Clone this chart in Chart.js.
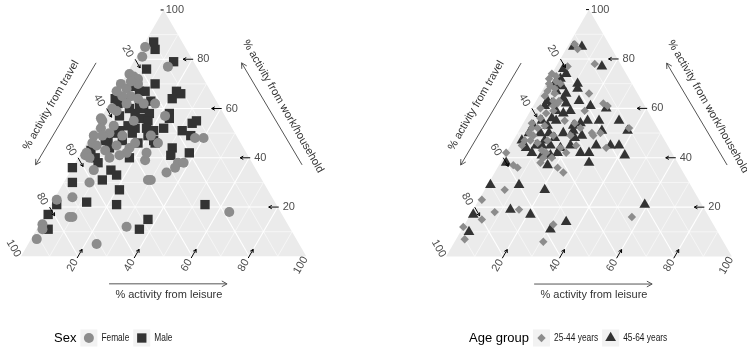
<!DOCTYPE html>
<html>
<head>
<meta charset="utf-8">
<script src="https://cdn.jsdelivr.net/npm/chart.js@4.4.1/dist/chart.umd.min.js"></script>
<style>
  html, body { margin: 0; padding: 0; background: #ffffff; }
  #wrap { position: relative; width: 747px; height: 351px; overflow: hidden; }
  .panel { position: absolute; top: 0; }
  #leftPanel { left: 0; }
  #rightPanel { left: 374px; }
</style>
</head>
<body>
<div id="wrap">
  <div class="panel" id="leftPanel"><canvas id="sexChart" width="374" height="351"></canvas></div>
  <div class="panel" id="rightPanel"><canvas id="ageChart" width="373" height="351"></canvas></div>
</div>
<script>
// =====================================================
// 1. DATA (% activity: travel / work-household / leisure)
// =====================================================
const femaleTravel = [14,17,10,25,24,23,30,29,29,27,32,22,21,12,15,37,26,28,24,32,40,39,61,70,76,18,75,74,86,87,91,57,71,44,46,50,52,51,56,57,56,49,49,41,37,44,40,40,37,35,42,45,44,33,32,38,24,26,30,29,44,47,57,26,33];
const femaleWork = [85,81,77,74,73,72,70,68,65,64,65,62,57,48,48,39,38,36,38,34,31,31,30,24,23,18,16,16,13,11,7,12,5,55,52,49,46,45,42,41,40,40,43,53,59,50,49,44,46,42,42,41,45,55,62,60,70,62,49,46,56,49,35,71,67];
const femaleLeisure = [1,2,13,1,3,5,0,3,6,9,3,16,22,40,37,24,36,36,38,34,29,30,9,6,1,64,9,10,1,2,2,31,24,1,2,1,2,4,2,2,4,11,8,6,4,6,11,16,17,23,16,14,11,12,6,2,6,12,21,25,0,4,8,3,0];

const maleTravel = [10,11,7,18,18,12,11,15,26,25,23,35,35,32,28,27,31,37,30,26,19,20,13,11,28,36,34,40,30,24,18,16,31,30,30,42,46,47,36,25,27,20,42,54,54,64,54,51,50,67,56,52,66,56,25,77,82,48,53,85,41,47,32,23,28,36];
const maleWork = [87,84,79,76,70,67,66,64,69,67,67,64,62,60,61,60,58,57,56,58,58,56,54,55,55,53,52,51,52,52,51,49,49,46,47,50,47,47,50,44,41,42,40,40,38,36,43,35,33,30,31,27,22,21,21,21,17,15,11,11,47,44,63,63,51,46];
const maleLeisure = [3,5,14,6,12,21,23,21,5,8,10,1,3,8,11,13,11,6,14,16,23,24,33,34,17,11,14,9,18,24,31,35,20,24,23,8,7,6,14,31,32,38,18,6,8,0,3,14,17,3,13,21,12,23,54,2,1,37,36,4,12,9,5,14,21,18];

const youngTravel = [12,12,9,19,25,25,29,31,29,31,17,13,22,36,39,42,44,46,10,27,21,24,22,32,58,58,57,46,48,43,42,66,76,74,65,80,27,56,88,90,63,26,29,29,43,49,51,45,41,38,32,31,44,32,33,14,26,28,28,33,30,37,39,45,47,45,38,28,24,37,43];
const youngWork = [86,84,78,77,73,70,69,67,66,63,66,61,59,58,56,52,52,50,52,52,50,49,44,45,42,37,36,40,38,36,34,27,23,18,19,15,16,13,12,7,6,71,70,63,54,47,45,46,47,44,49,55,42,61,59,62,74,72,68,65,62,60,53,49,47,43,49,54,50,42,40];
const youngLeisure = [2,4,13,4,2,5,2,2,5,6,17,26,19,6,5,6,4,4,38,21,29,27,34,23,0,5,7,14,14,21,24,7,1,8,16,5,57,31,0,3,31,3,1,8,3,4,4,9,12,18,19,14,14,7,8,24,0,0,4,2,8,3,8,6,6,12,13,18,26,21,17];

const olderTravel = [13,10,7,21,21,19,20,25,27,19,14,22,12,11,23,26,29,34,31,28,25,20,17,34,38,32,29,31,17,38,43,46,60,70,60,52,20,68,62,82,51,58,87,46,44,50,50,39,38,34,32,33,35,27,27,25,46,43,40,24,28,32,27,39,35,30,46,42,41,49,20,19,30,42];
const olderWork = [85,85,77,76,74,70,68,66,64,61,60,63,55,51,55,54,53,50,48,49,45,45,45,55,53,42,42,38,41,44,41,37,38,29,29,27,21,19,17,17,14,11,10,45,45,44,47,50,48,45,59,63,61,59,70,69,41,53,42,72,67,62,62,55,56,58,50,50,45,42,51,55,51,47];
const olderLeisure = [2,5,16,3,5,11,12,9,9,20,26,15,33,38,22,20,18,16,21,23,30,35,38,11,9,26,29,31,42,18,16,17,2,1,11,21,59,13,21,1,35,31,3,9,11,6,3,11,14,21,9,4,4,14,3,6,13,4,18,4,5,6,11,6,9,12,4,8,14,9,29,26,19,11];

const tickValues = [20, 40, 60, 80, 100];
const gridMajor = [20, 40, 60, 80];
const gridMinor = [10, 30, 50, 70, 90];

const travelTitle = "% activity from travel";
const workTitle = "% activity from work/household";
const leisureTitle = "% activity from leisure";

// =====================================================
// 2. LAYOUT
// =====================================================
const PX_PER_UNIT = 2.956;   // 100 % along an edge = 295.6 px
const BASE_Y = 259.5;        // pixel row of the triangle base
const SQRT3_2 = Math.sqrt(3) / 2;
const FONT = '"Liberation Sans", Arial, sans-serif';

// ternary -> cartesian (x along base, y up)
function toPoints(travel, work, leisure) {
  return travel.map((t, i) => {
    const sum = t + work[i] + leisure[i];
    const w = work[i] * 100 / sum;
    const l = leisure[i] * 100 / sum;
    return { x: l + w / 2, y: w * SQRT3_2 };
  });
}

function ternaryPx(chart, t, w, l) {
  return {
    x: chart.scales.x.getPixelForValue(l + w / 2),
    y: chart.scales.y.getPixelForValue(w * SQRT3_2)
  };
}

// =====================================================
// 3. DRAW HELPERS
// =====================================================
function line(ctx, a, b) {
  ctx.beginPath();
  ctx.moveTo(a.x, a.y);
  ctx.lineTo(b.x, b.y);
  ctx.stroke();
}

function arrow(ctx, x1, y1, x2, y2, head) {
  const a = Math.atan2(y2 - y1, x2 - x1);
  ctx.beginPath();
  ctx.moveTo(x1, y1);
  ctx.lineTo(x2, y2);
  ctx.moveTo(x2 - head * Math.cos(a - 0.5), y2 - head * Math.sin(a - 0.5));
  ctx.lineTo(x2, y2);
  ctx.lineTo(x2 - head * Math.cos(a + 0.5), y2 - head * Math.sin(a + 0.5));
  ctx.stroke();
}

function rotatedText(ctx, text, x, y, angle) {
  ctx.save();
  ctx.translate(x, y);
  ctx.rotate(angle);
  ctx.textAlign = "center";
  ctx.textBaseline = "middle";
  ctx.fillText(text, 0, 0);
  ctx.restore();
}

function shape(ctx, style, r, x, y) {
  ctx.beginPath();
  if (style === "circle") {
    ctx.arc(x, y, r, 0, Math.PI * 2);
  } else if (style === "rect") {
    const s = r * Math.SQRT1_2;
    ctx.rect(x - s, y - s, 2 * s, 2 * s);
  } else if (style === "rectRot") {
    ctx.moveTo(x - r, y); ctx.lineTo(x, y - r); ctx.lineTo(x + r, y); ctx.lineTo(x, y + r);
  } else {
    ctx.moveTo(x, y - r);
    ctx.lineTo(x + r * SQRT3_2, y + r / 2);
    ctx.lineTo(x - r * SQRT3_2, y + r / 2);
  }
  ctx.closePath();
  ctx.fill();
}

function drawGrid(chart, values, width) {
  const ctx = chart.ctx;
  ctx.lineWidth = width;
  values.forEach(v => {
    line(ctx, ternaryPx(chart, 100 - v, v, 0), ternaryPx(chart, 0, v, 100 - v));
    line(ctx, ternaryPx(chart, v, 100 - v, 0), ternaryPx(chart, v, 0, 100 - v));
    line(ctx, ternaryPx(chart, 100 - v, 0, v), ternaryPx(chart, 0, 100 - v, v));
  });
}

function drawAxes(chart) {
  const ctx = chart.ctx;
  ctx.save();
  ctx.font = "11px " + FONT;
  ctx.fillStyle = "#4D4D4D";
  ctx.strokeStyle = "#000000";
  ctx.lineWidth = 1;

  tickValues.forEach(v => {
    // work / household : right edge
    let p = ternaryPx(chart, 0, v, 100 - v);
    if (v < 100) {
      arrow(ctx, p.x + 1, p.y, p.x - 9, p.y, 3.5);
    } else {
      line(ctx, { x: p.x - 3, y: p.y }, p);
    }
    ctx.textAlign = "left";
    ctx.textBaseline = "middle";
    ctx.fillText(String(v), p.x + (v < 100 ? 5 : 2), p.y);

    // travel : left edge
    p = ternaryPx(chart, v, 100 - v, 0);
    if (v < 100) arrow(ctx, p.x, p.y, p.x + 5, p.y + 8.7, 3.5);
    rotatedText(ctx, String(v), p.x - 7.5, p.y - 8, Math.PI / 3);

    // leisure : base
    p = ternaryPx(chart, 100 - v, 0, v);
    if (v < 100) arrow(ctx, p.x - 1, p.y + 1.7, p.x + 4, p.y - 7, 3.5);
    rotatedText(ctx, String(v), p.x - 5.5, p.y + 9, -Math.PI / 3);
  });
  ctx.restore();
}

function drawTitles(chart) {
  const ctx = chart.ctx;
  const o = ternaryPx(chart, 100, 0, 0);
  ctx.save();
  ctx.font = "11px " + FONT;
  ctx.fillStyle = "#333333";
  rotatedText(ctx, travelTitle, o.x + 30, o.y - 151, -Math.PI / 3);
  rotatedText(ctx, workTitle, o.x + 262, o.y - 150, Math.PI / 3);
  rotatedText(ctx, leisureTitle, o.x + 147.8, o.y + 38.5, 0);

  ctx.strokeStyle = "#555555";
  ctx.lineWidth = 1;
  arrow(ctx, o.x + 75, o.y - 193.5, o.x + 14.5, o.y - 91.5, 6);
  arrow(ctx, o.x + 281, o.y - 91.5, o.x + 220.5, o.y - 193.5, 6);
  arrow(ctx, o.x + 88, o.y + 27.5, o.x + 206, o.y + 27.5, 6);
  ctx.restore();
}

// narrow label text, like the reference legend
function narrowText(ctx, text, x, y, squeeze) {
  ctx.save();
  ctx.translate(x, y);
  ctx.scale(squeeze, 1);
  ctx.fillText(text, 0, 0);
  ctx.restore();
  return ctx.measureText(text).width * squeeze;
}

function drawLegend(chart, opts) {
  const ctx = chart.ctx;
  const y = 338;
  const gap = 4;
  const key = 17;
  ctx.save();
  ctx.textAlign = "left";
  ctx.textBaseline = "middle";
  ctx.fillStyle = "#000000";
  ctx.font = "13px " + FONT;
  ctx.fillText(opts.title, opts.titleX, y);
  let x = opts.titleX + ctx.measureText(opts.title).width + gap;

  chart.data.datasets.forEach(ds => {
    ctx.fillStyle = "#F2F2F2";
    ctx.fillRect(x, y - key / 2, key, key);
    ctx.fillStyle = ds.backgroundColor;
    shape(ctx, ds.pointStyle, ds.pointRadius, x + key / 2, y);
    x += key + gap;
    ctx.fillStyle = "#1A1A1A";
    ctx.font = "11px " + FONT;
    x += narrowText(ctx, ds.label, x, y, 0.76) + gap;
  });
  ctx.restore();
}

// =====================================================
// 4. TERNARY PLUGIN
// =====================================================
const ternaryFrame = {
  id: "ternaryFrame",
  beforeDatasetsDraw(chart) {
    const ctx = chart.ctx;
    const top = ternaryPx(chart, 0, 100, 0);
    const left = ternaryPx(chart, 100, 0, 0);
    const right = ternaryPx(chart, 0, 0, 100);
    ctx.save();
    ctx.fillStyle = "#EBEBEB";
    ctx.beginPath();
    ctx.moveTo(top.x, top.y);
    ctx.lineTo(left.x, left.y);
    ctx.lineTo(right.x, right.y);
    ctx.closePath();
    ctx.fill();
    ctx.strokeStyle = "#FFFFFF";
    drawGrid(chart, gridMinor, 0.55);
    drawGrid(chart, gridMajor, 1.1);
    ctx.restore();
  },
  afterDatasetsDraw(chart, args, opts) {
    drawAxes(chart);
    drawTitles(chart);
    drawLegend(chart, opts);
  }
};

// =====================================================
// 5. CHARTS
// =====================================================
function makeChart(canvasId, originX, datasets, legendOpts) {
  const canvas = document.getElementById(canvasId);
  const w = canvas.width;
  const h = canvas.height;

  return new Chart(canvas, {
    type: "scatter",
    data: { datasets: datasets },
    options: {
      responsive: false,
      animation: false,
      events: [],
      layout: { padding: 0 },
      plugins: {
        legend: { display: false },
        tooltip: { enabled: false },
        ternaryFrame: legendOpts
      },
      scales: {
        x: {
          type: "linear", display: false, bounds: "data",
          min: -originX / PX_PER_UNIT,
          max: (w - originX) / PX_PER_UNIT
        },
        y: {
          type: "linear", display: false, bounds: "data",
          min: -(h - BASE_Y) / PX_PER_UNIT,
          max: BASE_Y / PX_PER_UNIT
        }
      }
    },
    plugins: [ternaryFrame]
  });
}

function pointSet(label, points, style, radius, color) {
  return {
    label: label,
    data: points,
    pointStyle: style,
    pointRadius: radius,
    pointHoverRadius: radius,
    backgroundColor: color,
    borderColor: color,
    pointBorderWidth: 0,
    clip: false
  };
}

makeChart("sexChart", 15, [
  pointSet("Female", toPoints(femaleTravel, femaleWork, femaleLeisure), "circle", 5, "#8C8C8C"),
  pointSet("Male", toPoints(maleTravel, maleWork, maleLeisure), "rect", 6.6, "#333333")
], { title: "Sex", titleX: 54 });

makeChart("ageChart", 68.2, [
  pointSet("25-44 years", toPoints(youngTravel, youngWork, youngLeisure), "rectRot", 4.2, "#8C8C8C"),
  pointSet("45-64 years", toPoints(olderTravel, olderWork, olderLeisure), "triangle", 6.2, "#333333")
], { title: "Age group", titleX: 95 });
</script>
</body>
</html>
